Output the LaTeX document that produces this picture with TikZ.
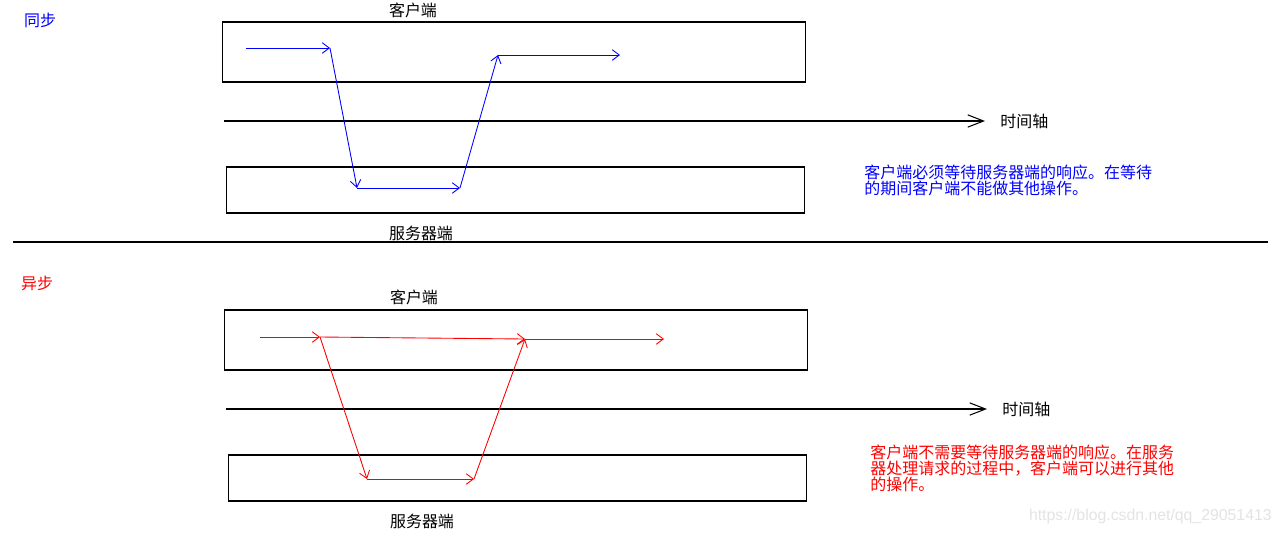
\documentclass[tikz,border=0pt]{standalone}
\usepackage{fontspec}
\setmainfont{Liberation Sans}
\newfontfamily\cjk{Noto Sans CJK SC}
\usetikzlibrary{arrows.meta,positioning}
\tikzset{>={Straight Barb[length=4pt,width=6pt]}}
\tikzset{
  box/.style={draw, line width=0.6pt, inner sep=0pt},
  word/.style={font=\cjk\fontsize{9.1}{9.1}\selectfont, inner sep=0pt},
  flow/.style={->, line width=0.5pt},
  axis/.style={-{Straight Barb[length=9pt,width=7pt]}, line width=0.6pt}
}

\begin{document}
\begin{tikzpicture}[x=0.02cm, y=-0.02cm]
    \useasboundingbox (0,0) rectangle (1282,535);

    % synchronous
    \node[word, blue] (sync) at (40,20) {同步};
    \node[box, minimum width=11.68cm, minimum height=1.2cm] (client1) at (514,52) {};
    \node[box, minimum width=11.58cm, minimum height=0.92cm] (server1) at (515.5,190) {};
    \node[word] (clientlabel1) at (413,10) {客户端};
    \node[word] (serverlabel1) at (421,233) {服务器端};

    \coordinate (t1) at (224,121);
    \coordinate (t1e) at (985,121);
    \node[word, anchor=west] (time1) at (1000,121) {时间轴};
    \draw[axis] (t1) -- (t1e);

    \coordinate (a1) at (246,48);
    \coordinate (a2) at (330,48);
    \coordinate (a3) at (357,188);
    \coordinate (a4) at (460,188);
    \coordinate (a5) at (498,55);
    \coordinate (a6) at (620,55);
    \foreach \p/\q in {a1/a2,a2/a3,a3/a4,a4/a5,a5/a6}
        \draw[flow, blue] (\p) -- (\q);

    \node[word, blue, anchor=north west, align=left] (note1) at (864,165)
        {客户端必须等待服务器端的响应。在等待\\的期间客户端不能做其他操作。};

    \coordinate (sepl) at (13,242);
    \coordinate (sepr) at (1268,242);
    \draw[line width=0.6pt] (sepl) -- (sepr);

    % asynchronous
    \node[word, red] (async) at (37,283) {异步};
    \node[box, minimum width=11.68cm, minimum height=1.2cm] (client2) at (516,340) {};
    \node[box, minimum width=11.58cm, minimum height=0.92cm] (server2) at (517.5,478) {};
    \node[word] (clientlabel2) at (414,297) {客户端};
    \node[word] (serverlabel2) at (422,521) {服务器端};

    \coordinate (t2) at (226,409);
    \coordinate (t2e) at (987,409);
    \node[word, anchor=west] (time2) at (1002,409) {时间轴};
    \draw[axis] (t2) -- (t2e);

    \coordinate (b1) at (260,337);
    \coordinate (b2) at (320,337);
    \coordinate (b3) at (367,479);
    \coordinate (b4) at (474,479);
    \coordinate (b5) at (525,339);
    \coordinate (b6) at (664,339);
    \foreach \p/\q in {b1/b2,b2/b5,b5/b6,b2/b3,b3/b4,b4/b5}
        \draw[flow, red] (\p) -- (\q);

    \node[word, red, anchor=north west, align=left] (note2) at (870,445)
        {客户端不需要等待服务器端的响应。在服务\\器处理请求的过程中，客户端可以进行其他\\的操作。};

    \node[font=\fontsize{9}{9}\selectfont, text=gray!22, anchor=east, inner sep=0pt] (mark) at (1272,516)
        {https://blog.csdn.net/qq\_29051413};
\end{tikzpicture}
\end{document}
